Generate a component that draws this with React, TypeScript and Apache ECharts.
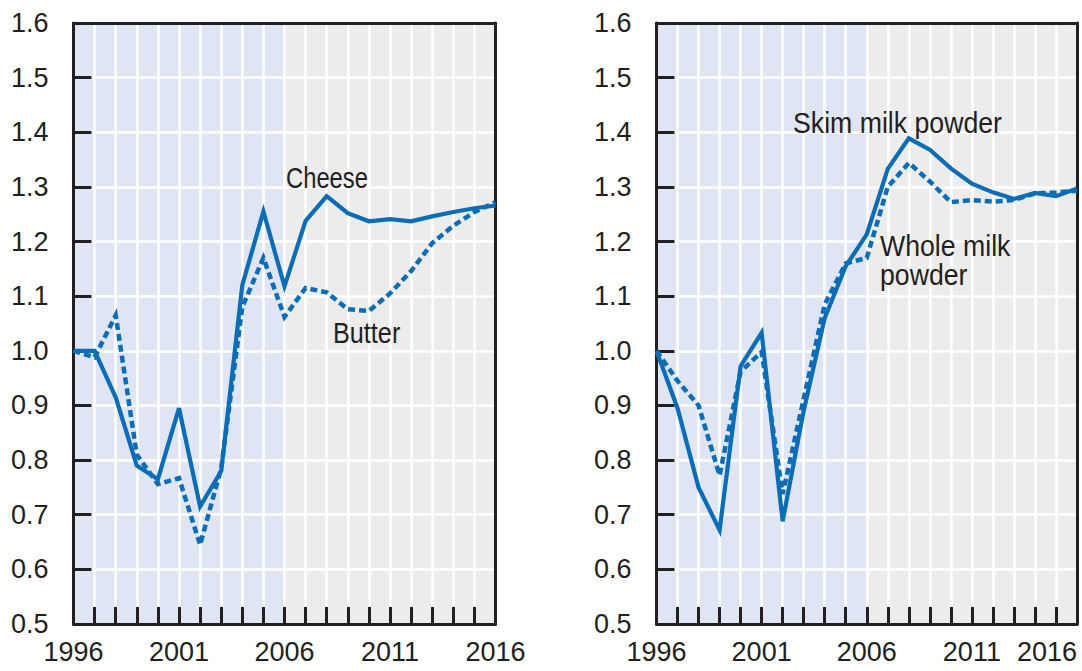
import React, { useEffect, useRef } from "react";
import * as echarts from "echarts";

const years = [1996, 1997, 1998, 1999, 2000, 2001, 2002, 2003, 2004, 2005, 2006, 2007, 2008, 2009, 2010, 2011, 2012, 2013, 2014, 2015, 2016];
const cheese = [1.0, 1.0, 0.915, 0.79, 0.765, 0.895, 0.715, 0.78, 1.12, 1.255, 1.118, 1.238, 1.283, 1.252, 1.237, 1.241, 1.237, 1.246, 1.254, 1.261, 1.266];
const butter = [1.0, 0.988, 1.065, 0.81, 0.756, 0.767, 0.645, 0.785, 1.08, 1.17, 1.062, 1.115, 1.107, 1.076, 1.073, 1.105, 1.146, 1.197, 1.229, 1.254, 1.272];
const skimMilk = [1.0, 0.895, 0.75, 0.672, 0.972, 1.033, 0.688, 0.89, 1.06, 1.155, 1.213, 1.333, 1.389, 1.368, 1.334, 1.306, 1.29, 1.278, 1.289, 1.283, 1.297];
const wholeMilk = [1.0, 0.945, 0.9, 0.772, 0.962, 0.998, 0.738, 0.912, 1.085, 1.16, 1.17, 1.3, 1.344, 1.31, 1.272, 1.276, 1.273, 1.276, 1.288, 1.29, 1.293];
const xLabelYears = [1996, 2001, 2006, 2011, 2016];
const shadeColors = [
  "#dfe5f3", "#dfe5f3", "#dfe5f3", "#dfe5f3", "#dfe5f3", "#dfe5f3", "#dfe5f3", "#dfe5f3", "#dfe5f3", "#dfe5f3",
  "#ececec", "#ececec", "#ececec", "#ececec", "#ececec", "#ececec", "#ececec", "#ececec", "#ececec", "#ececec",
];

const FONT = "'Liberation Sans', Arial, sans-serif";
const INK = "#231f20";
const BLUE = "#0b6db7";
const X_PER_GRID = 4;
const Y_PER_GRID = 3;

function pairs(vals: number[]) {
  return years.map((y, i) => [y, vals[i]]);
}

function axesFor(g: number, alignMax: boolean) {
  const xBase = { type: "value", gridIndex: g, min: 1996, max: 2016, interval: 1 };
  const yBase = { type: "value", gridIndex: g, min: 0.5, max: 1.6, interval: 0.1 };
  const off = { show: false };
  const border = { show: true, onZero: false, lineStyle: { color: INK, width: 3 } };
  const white = { show: true, lineStyle: { color: "#ffffff", width: 2.5 } };
  const xAxes = [
    // shading
    { ...xBase, position: "bottom", z: 0, axisLine: off, axisTick: off, axisLabel: off, splitLine: off,
      splitArea: { show: true, areaStyle: { color: shadeColors } } },
    // vertical white grid lines
    { ...xBase, position: "bottom", z: 1, axisLine: off, axisTick: off, axisLabel: off, splitLine: white },
    // main bottom axis
    {
      ...xBase, position: "bottom", z: 2,
      axisLine: border,
      axisTick: { show: true, inside: true, length: 17, lineStyle: { color: INK, width: 3 } },
      axisLabel: {
        show: true, margin: 14, color: INK, fontFamily: FONT, fontSize: 27,
        alignMaxLabel: alignMax ? "right" : undefined,
        formatter: (v: number) => (xLabelYears.indexOf(Math.round(v)) >= 0 ? String(Math.round(v)) : ""),
      },
      splitLine: off,
    },
    // top border
    { ...xBase, position: "top", z: 2, axisLine: border, axisTick: off, axisLabel: off, splitLine: off },
  ];
  const yAxes = [
    // horizontal white grid lines
    { ...yBase, position: "left", z: 1, axisLine: off, axisTick: off, axisLabel: off, splitLine: white },
    // main left axis
    {
      ...yBase, position: "left", z: 2,
      axisLine: border,
      axisTick: { show: true, inside: true, length: 18, lineStyle: { color: INK, width: 3 } },
      axisLabel: {
        show: true, margin: 25, color: INK, fontFamily: FONT, fontSize: 27,
        formatter: (v: number) => v.toFixed(1),
      },
      splitLine: off,
    },
    // right border
    { ...yBase, position: "right", z: 2, axisLine: border, axisTick: off, axisLabel: off, splitLine: off },
  ];
  return { xAxes, yAxes };
}

function lineSeries(name: string, g: number, vals: number[], dotted: boolean) {
  return {
    name,
    type: "line",
    xAxisIndex: g * X_PER_GRID + 2,
    yAxisIndex: g * Y_PER_GRID + 1,
    data: pairs(vals),
    symbol: "none",
    z: 3,
    lineStyle: dotted
      ? { color: BLUE, width: 4.5, type: [7, 4], cap: "butt", join: "miter" }
      : { color: BLUE, width: 4.2, type: "solid", join: "miter" },
  };
}

function label(text: string, x: number, y: number, sx: number) {
  return {
    type: "text",
    x,
    y,
    scaleX: sx,
    z: 10,
    style: {
      text,
      fill: INK,
      font: `29px ${FONT}`,
      lineHeight: 29,
      align: "left",
      verticalAlign: "middle",
      textAlign: "left",
      textVerticalAlign: "middle",
    },
  };
}

export default function App() {
  const ref = useRef<HTMLDivElement>(null);
  useEffect(() => {
    if (!ref.current) return;
    const chart = echarts.init(ref.current, undefined, { renderer: "svg" });
    const a0 = axesFor(0, false);
    const a1 = axesFor(1, true);
    chart.setOption({
      animation: false,
      backgroundColor: "#ffffff",
      grid: [
        { left: 73.5, top: 23, width: 422, height: 601, containLabel: false },
        { left: 656.5, top: 23, width: 420.5, height: 601, containLabel: false },
      ],
      xAxis: [...a0.xAxes, ...a1.xAxes],
      yAxis: [...a0.yAxes, ...a1.yAxes],
      series: [
        lineSeries("Butter", 0, butter, true),
        lineSeries("Cheese", 0, cheese, false),
        lineSeries("Whole milk powder", 1, wholeMilk, true),
        lineSeries("Skim milk powder", 1, skimMilk, false),
      ],
      graphic: [
        label("Cheese", 286, 178, 0.82),
        label("Butter", 333, 333, 0.87),
        label("Skim milk powder", 793, 123, 0.92),
        label("Whole milk\npowder", 880, 260.5, 0.92),
      ],
    });
    return () => chart.dispose();
  }, []);
  return (
    <div
      ref={ref}
      style={{ position: "fixed", left: 0, top: 0, width: 1082, height: 671, background: "#fff" }}
    />
  );
}
